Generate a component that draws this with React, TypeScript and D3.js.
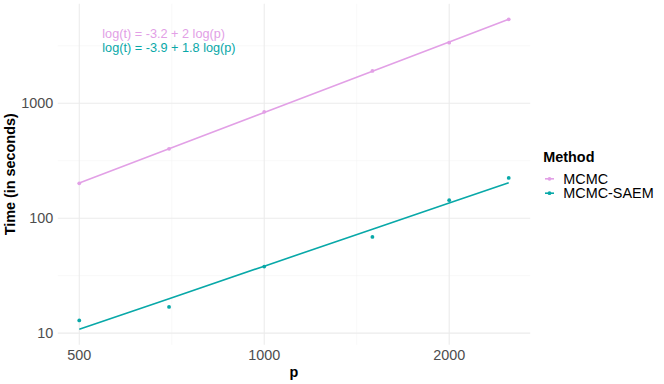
import React from "react";
import * as d3 from "d3";

const pValues = [500, 700, 1000, 1500, 2000, 2500];
const mcmcTimes = [201, 401, 842, 1910, 3365, 5375];
const saemTimes = [12.9, 16.9, 37.9, 68.7, 143.6, 224];
const methods = ["MCMC", "MCMC-SAEM"];
const methodColors = ["#E2A0E6", "#08A8A8"];
const equations = ["log(t) = -3.2 + 2 log(p)", "log(t) = -3.9 + 1.8 log(p)"];
const xTicks = [500, 1000, 2000];
const xMinor = [707.1, 1414.2];
const yTicks = [10, 100, 1000];
const yMinor = [3.162, 31.62, 316.2, 3162];

const W = 664;
const H = 384;
const FONT = "'Liberation Sans', Arial, Helvetica, sans-serif";

function fit(xs: number[], ys: number[]) {
  const lx = xs.map(Math.log10);
  const ly = ys.map(Math.log10);
  const mx = d3.mean(lx) as number;
  const my = d3.mean(ly) as number;
  let sxy = 0, sxx = 0;
  lx.forEach((v, i) => { sxy += (v - mx) * (ly[i] - my); sxx += (v - mx) * (v - mx); });
  const b = sxy / sxx;
  const a = my - b * mx;
  return { a, b };
}

export default function App() {
  const series = [mcmcTimes, saemTimes];
  const fits = series.map((s) => fit(pValues, s));
  const pMin = d3.min(pValues) as number;
  const pMax = d3.max(pValues) as number;
  const fitLines = fits.map((f) => pValues.map((p) => [p, Math.pow(10, f.a + f.b * Math.log10(p))] as [number, number]));

  const panel = { left: 57.8, right: 530.2, top: 3.8, bottom: 344.8 };
  const xl0 = Math.log10(pMin), xl1 = Math.log10(pMax);
  const xe = (xl1 - xl0) * 0.05;
  const x = d3.scaleLog().domain([Math.pow(10, xl0 - xe), Math.pow(10, xl1 + xe)]).range([panel.left, panel.right]);

  const allY: number[] = [...mcmcTimes, ...saemTimes, ...fitLines.flat().map((d) => d[1])];
  const yl0 = Math.log10(d3.min(allY) as number), yl1 = Math.log10(d3.max(allY) as number);
  const ye = (yl1 - yl0) * 0.05;
  const y = d3.scaleLog().domain([Math.pow(10, yl0 - ye), Math.pow(10, yl1 + ye)]).range([panel.bottom, panel.top]);

  const line = d3.line<[number, number]>().x((d) => x(d[0])).y((d) => y(d[1]));

  const tickColor = "#4D4D4D";
  const fs = 14.4;

  return (
    <svg width={W} height={H} style={{ position: "absolute", left: 0, top: 0, background: "#fff" }} fontFamily={FONT}>
      <rect x={0} y={0} width={W} height={H} fill="#fff" />
      {/* minor grid */}
      {xMinor.map((v) => (
        <line key={"xm" + v} x1={x(v)} x2={x(v)} y1={panel.top} y2={panel.bottom} stroke="#F2F2F2" strokeWidth={0.55} />
      ))}
      {yMinor.filter((v) => y(v) >= panel.top && y(v) <= panel.bottom).map((v) => (
        <line key={"ym" + v} x1={panel.left} x2={panel.right} y1={y(v)} y2={y(v)} stroke="#F2F2F2" strokeWidth={0.55} />
      ))}
      {/* major grid */}
      {xTicks.map((v) => (
        <line key={"xg" + v} x1={x(v)} x2={x(v)} y1={panel.top} y2={panel.bottom} stroke="#EBEBEB" strokeWidth={1.07} />
      ))}
      {yTicks.map((v) => (
        <line key={"yg" + v} x1={panel.left} x2={panel.right} y1={y(v)} y2={y(v)} stroke="#EBEBEB" strokeWidth={1.07} />
      ))}
      {/* fit lines */}
      {fitLines.map((l, i) => (
        <path key={"fl" + i} d={line(l) || ""} fill="none" stroke={methodColors[i]} strokeWidth={1.6} />
      ))}
      {/* points */}
      {series.map((s, i) =>
        s.map((t, j) => (
          <circle key={"pt" + i + "-" + j} cx={x(pValues[j])} cy={y(t)} r={1.9} fill={methodColors[i]} />
        ))
      )}
      {/* equations */}
      {equations.map((e, i) => (
        <text key={"eq" + i} x={102.3} y={38.3 + i * 14} fontSize={12.7} fill={methodColors[i]}>
          {e}
        </text>
      ))}
      {/* x ticks */}
      {xTicks.map((v) => (
        <text key={"xt" + v} x={x(v)} y={359.6} textAnchor="middle" fontSize={fs} fill={tickColor}>
          {String(v)}
        </text>
      ))}
      {/* y ticks */}
      {yTicks.map((v) => (
        <text key={"yt" + v} x={53.3} y={y(v) + 5.2} textAnchor="end" fontSize={fs} fill={tickColor}>
          {String(v)}
        </text>
      ))}
      {/* axis titles */}
      <text x={(panel.left + panel.right) / 2} y={377} textAnchor="middle" fontSize={fs} fontWeight="bold" fill="#000">
        p
      </text>
      <text transform={`translate(15,${(panel.top + panel.bottom) / 2}) rotate(-90)`} textAnchor="middle" fontSize={fs} fontWeight="bold" fill="#000">
        Time (in seconds)
      </text>
      {/* legend */}
      <text x={543.3} y={162} fontSize={fs} fontWeight="bold" fill="#000">
        Method
      </text>
      {methods.map((m, i) => {
        const cy = 178.8 + i * 14.4;
        return (
          <g key={"lg" + m}>
            <line x1={545} x2={554} y1={cy} y2={cy} stroke={methodColors[i]} strokeWidth={1.6} />
            <circle cx={549.5} cy={cy} r={1.9} fill={methodColors[i]} />
            <text x={563.3} y={cy + 5.2} fontSize={fs} fill="#000">
              {m}
            </text>
          </g>
        );
      })}
    </svg>
  );
}
